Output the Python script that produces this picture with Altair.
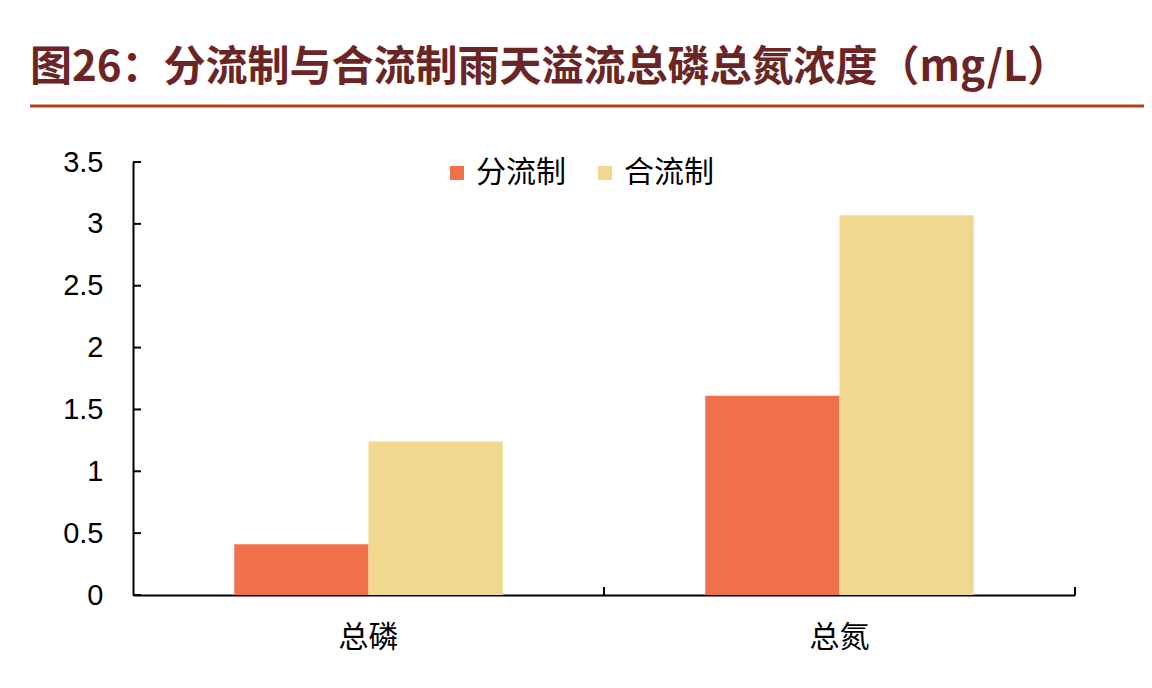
import altair as alt
import pandas as pd

TITLE = "图26：分流制与合流制雨天溢流总磷总氮浓度（mg/L）"
categories = ["总磷", "总氮"]
series = ["分流制", "合流制"]
values_split = [0.41, 1.61]
values_combined = [1.24, 3.07]
y_ticks = [0, 0.5, 1, 1.5, 2, 2.5, 3, 3.5]
colors = ["#F0704C", "#F0D88F"]

rows = []
for i, c in enumerate(categories):
    rows.append({"指标": c, "系列": series[0], "值": values_split[i]})
    rows.append({"指标": c, "系列": series[1], "值": values_combined[i]})
df = pd.DataFrame(rows)
title_df = pd.DataFrame({"t": [TITLE]})
cat_df = pd.DataFrame({"指标": categories})
ytick_df = pd.DataFrame({"值": y_ticks})

W, H = 942, 433
CJK = "Noto Sans CJK SC"

x_scale = alt.Scale(paddingInner=0.43, paddingOuter=0.215)
xo_scale = alt.Scale(paddingInner=0, paddingOuter=0)
y_scale = alt.Scale(domain=[0, 3.5], nice=False)
y_axis = alt.Axis(title=None, values=y_ticks, ticks=False, grid=False,
                  domainColor="black", domainWidth=2, labelFont="Liberation Sans",
                  labelFontSize=29, labelColor="black", labelPadding=30,
                  format="~g")

bars = alt.Chart(df).mark_bar().encode(
    x=alt.X("指标:N", sort=categories, scale=x_scale,
            axis=alt.Axis(title=None, labelAngle=0, ticks=False, domainColor="black",
                          domainWidth=2, labelFont=CJK, labelFontSize=30,
                          labelColor="black", labelPadding=27)),
    xOffset=alt.XOffset("系列:N", sort=series, scale=xo_scale),
    y=alt.Y("值:Q", scale=y_scale, axis=y_axis),
    color=alt.Color("系列:N", sort=series, scale=alt.Scale(domain=series, range=colors),
                    legend=alt.Legend(title=None, orient="none", legendX=309, legendY=-4,
                                      direction="horizontal", symbolType="square",
                                      symbolSize=196, symbolStrokeWidth=0,
                                      labelFont=CJK, labelFontSize=30, labelColor="black",
                                      labelOffset=4, columnPadding=24, padding=0)),
)

# inward tick marks on the x axis at category boundaries
xtick_layer = alt.Chart(cat_df).mark_rule(color="black", strokeWidth=2).encode(
    x=alt.X("指标:N", sort=categories, bandPosition=1,
            scale=alt.Scale(paddingInner=0, paddingOuter=0), axis=None),
    y=alt.value(H - 8), y2=alt.value(H),
)

# inward tick marks on the y axis
ytick_layer = alt.Chart(ytick_df).mark_rule(color="black", strokeWidth=2).encode(
    y=alt.Y("值:Q", scale=y_scale, axis=y_axis),
    x=alt.value(0), x2=alt.value(8),
)

title_layer = alt.Chart(title_df).mark_text(
    align="left", baseline="middle", font=CJK, fontSize=42, fontWeight="bold",
    color="#6B2525"
).encode(text="t:N", x=alt.value(-103), y=alt.value(-94))

rule_layer = alt.Chart(title_df).mark_rule(color="#B4401E", strokeWidth=3).encode(
    x=alt.value(-103), x2=alt.value(1011), y=alt.value(-56)
)

chart = alt.layer(bars, xtick_layer, ytick_layer, title_layer, rule_layer).resolve_scale(
    x="independent"
).properties(
    width=W, height=H,
    autosize=alt.AutoSizeParams(type="none"),
    padding={"left": 125, "top": 154, "right": 69, "bottom": 80},
).configure_view(stroke=None)

chart.save("out.html", embed_options={"renderer": "svg", "actions": False})
